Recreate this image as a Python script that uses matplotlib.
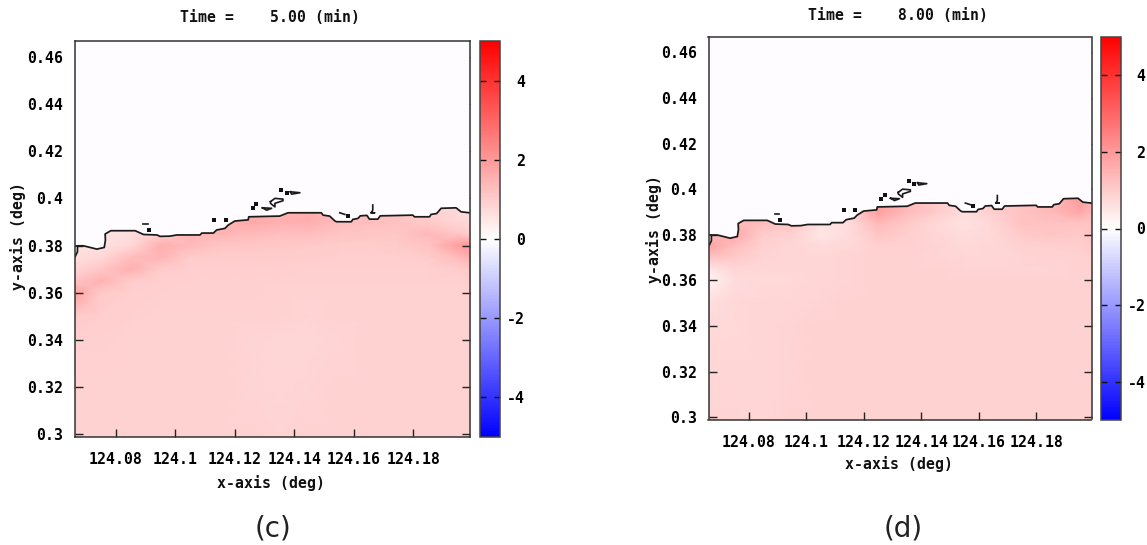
import matplotlib
matplotlib.use("Agg")
import matplotlib.pyplot as plt
from matplotlib.colors import LinearSegmentedColormap

W, H = 1147, 545
MONO = "DejaVu Sans Mono"

lon_grid = [124.066, 124.075, 124.085, 124.095, 124.105, 124.115, 124.125, 124.135,
            124.145, 124.155, 124.165, 124.175, 124.185, 124.195, 124.199]
lat_grid = [0.299, 0.32, 0.34, 0.35, 0.36, 0.365, 0.37, 0.375, 0.38, 0.385, 0.39, 0.397]

field_c = [
    [.88, .88, .88, .88, .88, .88, .86, .84, .86, .88, .88, .88, .88, .88, .88],
    [.88, .88, .88, .88, .88, .88, .84, .82, .84, .86, .88, .88, .88, .88, .88],
    [.92, .90, .88, .86, .86, .86, .84, .82, .82, .84, .86, .86, .86, .86, .86],
    [1.05, .95, .90, .88, .88, .88, .88, .86, .84, .86, .86, .86, .86, .86, .86],
    [1.85, 1.05, .95, .92, .90, .90, .90, .88, .88, .88, .88, .88, .88, .88, .88],
    [1.15, 1.50, 1.00, .95, .92, .92, .92, .90, .90, .90, .90, .90, .90, .92, .95],
    [.85, 1.10, 1.55, 1.00, .95, .95, .95, .95, .92, .92, .92, .92, .92, .98, 1.05],
    [.70, .75, 1.30, 1.45, 1.00, 1.00, 1.00, 1.00, .98, .95, .95, .95, .98, 1.30, 1.55],
    [.60, .62, .75, 1.55, 1.35, 1.10, 1.10, 1.08, 1.05, 1.00, 1.00, 1.02, 1.15, 1.90, 2.10],
    [.60, .60, .65, .90, 1.45, 1.45, 1.35, 1.25, 1.25, 1.15, 1.10, 1.10, 1.40, 1.10, 1.00],
    [.60, .60, .62, .85, 1.30, 1.40, 1.70, 1.55, 1.60, 1.30, 1.25, 1.20, 1.05, .80, .75],
    [.60, .60, .62, .85, 1.30, 1.40, 1.40, 1.45, 1.70, 1.30, 1.25, 1.20, .90, .72, .70],
]

field_d = [
    [.84, .84, .82, .86, .88, .88, .88, .88, .88, .88, .88, .88, .88, .88, .88],
    [.82, .80, .80, .84, .86, .88, .88, .88, .88, .88, .88, .88, .88, .88, .88],
    [.78, .78, .80, .84, .86, .86, .86, .86, .86, .86, .86, .86, .86, .86, .86],
    [.66, .78, .80, .82, .84, .86, .88, .86, .86, .86, .86, .86, .86, .86, .86],
    [.25, .70, .78, .78, .82, .84, .86, .86, .86, .86, .86, .86, .86, .86, .86],
    [.50, .80, .82, .80, .82, .84, .86, .88, .86, .84, .84, .84, .84, .86, .86],
    [1.15, 1.05, .85, .82, .82, .84, .88, .88, .84, .82, .82, .84, .86, .88, .90],
    [1.80, 1.25, .88, .82, .72, .78, .92, .90, .84, .78, .80, .88, .92, .96, 1.05],
    [1.30, 1.70, 1.00, .88, .50, .70, 1.10, .95, .80, .68, .76, 1.05, 1.10, 1.05, 1.10],
    [1.20, 1.40, 1.25, 1.20, .55, .70, 1.40, 1.05, .78, .55, .82, 1.20, 1.20, 1.15, 1.15],
    [1.20, 1.40, 1.35, 1.20, .70, .85, 1.85, 1.35, 1.05, .70, .95, 1.20, 1.35, 1.75, 1.40],
    [1.20, 1.40, 1.35, 1.20, .70, .85, 1.85, 1.35, 1.05, .70, .95, 1.20, 1.30, 2.00, 1.50],
]

coast_lon = [124.0663, 124.0671, 124.0671, 124.0691, 124.0714, 124.0736, 124.0761, 124.0765,
             124.0764, 124.0783, 124.0865, 124.0893, 124.0938, 124.0949, 124.0982, 124.1005,
             124.1083, 124.1089, 124.1128, 124.1139, 124.1167, 124.1178, 124.1200, 124.1245,
             124.1247, 124.1351, 124.1379, 124.1491, 124.1497, 124.1519, 124.1536, 124.1542,
             124.1592, 124.1597, 124.1614, 124.1622, 124.1644, 124.1653, 124.1681, 124.1689,
             124.1799, 124.1804, 124.1855, 124.1860, 124.1879, 124.1894, 124.1944, 124.1961,
             124.1990]
coast_lat = [0.3753, 0.3774, 0.3799, 0.3799, 0.3792, 0.3785, 0.3792, 0.3823,
             0.3849, 0.3863, 0.3863, 0.3847, 0.3845, 0.3839, 0.3840, 0.3845,
             0.3845, 0.3853, 0.3853, 0.3866, 0.3873, 0.3887, 0.3904, 0.3909,
             0.3922, 0.3925, 0.3939, 0.3939, 0.3929, 0.3925, 0.3905, 0.3901,
             0.3901, 0.3911, 0.3915, 0.3926, 0.3928, 0.3912, 0.3912, 0.3926,
             0.3929, 0.3922, 0.3922, 0.3932, 0.3936, 0.3958, 0.3960, 0.3943,
             0.3939]

islet_lon = [
    [124.0660, 124.0671],
    [124.0893, 124.0907],
    [124.1387, 124.1419, 124.1391, 124.1387],
    [124.1293, 124.1324, 124.1307, 124.1293],
    [124.1320, 124.1335, 124.1362, 124.1362, 124.1335, 124.1335, 124.1320, 124.1320],
    [124.1553, 124.1570],
    [124.1664, 124.1664, 124.1659, 124.1670, 124.1659],
]
islet_lat = [
    [0.3799, 0.3799],
    [0.3890, 0.3890],
    [0.4028, 0.4024, 0.4018, 0.4028],
    [0.3960, 0.3958, 0.3950, 0.3960],
    [0.3986, 0.4000, 0.3997, 0.3990, 0.3979, 0.3964, 0.3979, 0.3986],
    [0.3939, 0.3932],
    [0.3972, 0.3950, 0.3939, 0.3939, 0.3939],
]
dot_lon = [124.0910, 124.1130, 124.1169, 124.1260, 124.1273, 124.1357, 124.1376, 124.1580]
dot_lat = [0.3866, 0.3908, 0.3908, 0.3958, 0.3976, 0.4035, 0.4024, 0.3925]

x_ticks = [124.08, 124.10, 124.12, 124.14, 124.16, 124.18]
x_labels = ["124.08", "124.1", "124.12", "124.14", "124.16", "124.18"]
y_ticks = [0.30, 0.32, 0.34, 0.36, 0.38, 0.40, 0.42, 0.44, 0.46]
y_labels = ["0.3", "0.32", "0.34", "0.36", "0.38", "0.4", "0.42", "0.44", "0.46"]
c_ticks = [-4, -2, 0, 2, 4]
c_labels = ["-4", "-2", "0", "2", "4"]
times = ["Time =    5.00 (min)", "Time =    8.00 (min)"]

FS = 10.7
cmap = LinearSegmentedColormap.from_list("bwr2", ["#0000ff", "#ffffff", "#ff0000"], N=256)
fig = plt.figure(figsize=(W / 100, H / 100), dpi=100, facecolor="white")


def rect(l, t, r, b):
    return [l / W, 1 - b / H, (r - l) / W, (b - t) / H]


def px(x, y, s, **kw):
    fig.text(x / W, 1 - y / H, s, ha=kw.pop("ha", "center"), va="center", **kw)


def panel(box, cbox, field, title, tpos, xlpos, ylpos, cap, cappos, tick_pad_y, tick_pad_x):
    ax = fig.add_axes(rect(*box))
    ax.set_facecolor("#fefcfe")
    mesh = ax.pcolormesh(lon_grid, lat_grid, field, shading="gouraud",
                         cmap=cmap, vmin=-5, vmax=5, rasterized=True)
    ax.fill(coast_lon + [124.2, 124.2, 124.06, 124.06],
            coast_lat + [coast_lat[-1], 0.47, 0.47, coast_lat[0]],
            color="#fefcfe", lw=0, zorder=2)
    ax.plot(coast_lon, coast_lat, color="#1a1a1a", lw=1.25, zorder=3)
    for xs, ys in zip(islet_lon, islet_lat):
        ax.plot(xs, ys, color="#1a1a1a", lw=1.2, zorder=3)
    ax.plot(dot_lon, dot_lat, ls="none", marker="s", ms=2.5, mew=0, color="#111111", zorder=3)
    ax.set_xlim(124.0661, 124.1991)
    ax.set_ylim(0.299, 0.4667)
    ax.set_xticks(x_ticks, x_labels)
    ax.set_yticks(y_ticks, y_labels)
    ax.tick_params(direction="in", length=5.8, width=1.0, color="#222222", top=True, right=True,
                   labelsize=FS)
    ax.tick_params(axis="y", pad=tick_pad_y)
    ax.tick_params(axis="x", pad=tick_pad_x)
    for lab in ax.get_xticklabels() + ax.get_yticklabels():
        lab.set_family(MONO)
        lab.set_fontweight("bold")
    for sp in ax.spines.values():
        sp.set_linewidth(1.1)
        sp.set_color("#333333")
        sp.set_zorder(5)

    cax = fig.add_axes(rect(*cbox))
    cb = fig.colorbar(mesh, cax=cax)
    cb.set_ticks(c_ticks, labels=c_labels)
    cb.outline.set_linewidth(1.1)
    cb.outline.set_edgecolor("#444444")
    cax.tick_params(axis="y", direction="in", length=4.3, width=1.0, color="#111111",
                    left=True, right=True, pad=18, labelsize=FS)
    cax.minorticks_off()
    for lab in cax.get_yticklabels():
        lab.set_family(MONO)
        lab.set_fontweight("bold")
        lab.set_ha("right")

    tk = dict(family=MONO, fontweight="bold", fontsize=FS, color="#111111")
    px(*tpos, title, **tk)
    px(*xlpos, "x-axis (deg)", **tk)
    px(*ylpos, "y-axis (deg)", rotation=90, **tk)
    px(*cappos, cap, family="DejaVu Sans", fontsize=20, color="#222222")


panel((74.5, 41, 470, 436.7), (480, 41, 500, 437), field_c, times[0],
      (270, 18), (271, 483), (18, 236), "(c)", (273, 529), 8.5, 11)
panel((708.5, 37, 1091.5, 419.5), (1101, 37, 1120.5, 420), field_d, times[1],
      (898, 15), (899, 464), (654, 229), "(d)", (903, 529), 8.5, 11)

fig.savefig("out.png", dpi=100)
